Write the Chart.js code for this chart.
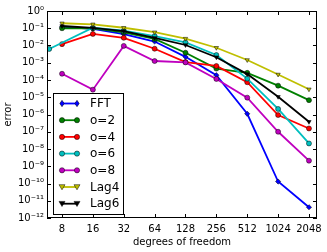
<!DOCTYPE html>
<html><head><meta charset="utf-8">
<script src="https://cdn.jsdelivr.net/npm/chart.js@4/dist/chart.umd.min.js"></script>
<style>html,body{margin:0;padding:0;background:#fff;overflow:hidden}</style>
</head>
<body><canvas id="c" width="327" height="252"></canvas>
<script>
const dof   = [8, 16, 32, 64, 128, 256, 512, 1024, 2048];
const dofO6 = [6, 16, 32, 64, 128, 256, 512, 1024, 2048];
const seriesNames = ['FFT', 'o=2', 'o=4', 'o=6', 'o=8', 'Lag4', 'Lag6'];
const fft  = [0.12, 0.093, 0.045, 0.017, 2.2e-3, 1.9e-4, 1.1e-6, 1.3e-10, 4.2e-12];
const o2   = [0.1, 0.1, 0.058, 0.024, 3.8e-3, 4.6e-4, 2.6e-4, 4.7e-5, 6.8e-6];
const o4   = [0.012, 0.047, 0.028, 6.5e-3, 1.1e-3, 6.5e-4, 7.4e-5, 9.3e-7, 1.55e-7];
const o6   = [6.3e-3, 0.107, 0.072, 0.035, 0.015, 2.8e-3, 1.2e-4, 2.1e-6, 2.1e-8];
const o8   = [2.3e-4, 2.75e-5, 9.5e-3, 1.26e-3, 1.05e-3, 1.15e-4, 9.5e-6, 1e-7, 2.1e-9];
const lag4 = [0.195, 0.17, 0.107, 0.059, 0.025, 7.4e-3, 1.45e-3, 2.1e-4, 2.9e-5];
const lag6 = [0.135, 0.105, 0.069, 0.0275, 0.0107, 2.1e-3, 2.2e-4, 1.07e-5, 3.8e-7];
const xTickValues = [8, 16, 32, 64, 128, 256, 512, 1024, 2048];
const yTickValues = [1, 1e-1, 1e-2, 1e-3, 1e-4, 1e-5, 1e-6, 1e-7, 1e-8, 1e-9, 1e-10, 1e-11, 1e-12];
const xTitle = 'degrees of freedom';
const yTitle = 'error';

const sup = {'0':'⁰','1':'¹','2':'²','3':'³','4':'⁴','5':'⁵','6':'⁶','7':'⁷','8':'⁸','9':'⁹','-':'⁻'};
function decadeLabel(v){
  const e = Math.round(Math.log10(v));
  return '10' + String(e).split('').map(c => sup[c]).join('');
}

const styles = [
  {color:'#0000ff', marker:'diamond'},
  {color:'#008000', marker:'circle'},
  {color:'#ff0000', marker:'circle'},
  {color:'#00bfbf', marker:'circle'},
  {color:'#bf00bf', marker:'circle'},
  {color:'#bfbf00', marker:'tri'},
  {color:'#000000', marker:'tri'}
];
const values = [fft, o2, o4, o6, o8, lag4, lag6];
const xs = [dof, dof, dof, dofO6, dof, dof, dof];

function toPts(x, y){ return x.map((v,i)=>({x:v, y:y[i]})); }
const cjsStyle = {diamond:'rectRot', circle:'circle', tri:'triangle'};

const datasets = values.map((v,i)=>({
  label: seriesNames[i],
  data: toPts(xs[i], v),
  borderColor: styles[i].color,
  backgroundColor: styles[i].color,
  borderWidth: 1.8,
  pointStyle: cjsStyle[styles[i].marker],
  pointRotation: styles[i].marker==='tri' ? 180 : 0,
  pointRadius: styles[i].marker==='diamond' ? 2.6 : 2.5,
  pointBorderColor: '#000',
  pointBorderWidth: 0.5,
  pointBackgroundColor: styles[i].color,
  order: 10 - i,
  tension: 0
}));

function drawMarker(ctx, kind, x, y, color){
  ctx.save();
  ctx.fillStyle = color; ctx.strokeStyle = '#000'; ctx.lineWidth = 0.5;
  ctx.beginPath();
  if (kind==='circle'){ ctx.arc(x,y,2.6,0,Math.PI*2); }
  else if (kind==='diamond'){ ctx.moveTo(x,y-3.2); ctx.lineTo(x+2.2,y); ctx.lineTo(x,y+3.2); ctx.lineTo(x-2.2,y); ctx.closePath(); }
  else { ctx.moveTo(x-3,y-2.3); ctx.lineTo(x+3,y-2.3); ctx.lineTo(x,y+2.8); ctx.closePath(); }
  ctx.fill(); ctx.stroke();
  ctx.restore();
}

const framePlugin = {
  id:'frame',
  afterDatasetsDraw(chart){
    const ctx = chart.ctx, a = chart.chartArea;
    const xs = chart.scales.x, ys = chart.scales.y;
    ctx.save();
    ctx.strokeStyle = '#000'; ctx.lineWidth = 1;
    ctx.strokeRect(Math.round(a.left)+0.5, Math.round(a.top)+0.5, Math.round(a.right-a.left)-1, Math.round(a.bottom-a.top)-1);
    ctx.beginPath();
    xTickValues.forEach(v=>{
      const px = Math.round(xs.getPixelForValue(v))+0.5;
      ctx.moveTo(px, a.bottom); ctx.lineTo(px, a.bottom-4);
      ctx.moveTo(px, a.top); ctx.lineTo(px, a.top+4);
    });
    yTickValues.forEach(v=>{
      const py = Math.round(ys.getPixelForValue(v))+0.5;
      ctx.moveTo(a.left, py); ctx.lineTo(a.left+4, py);
      ctx.moveTo(a.right, py); ctx.lineTo(a.right-4, py);
    });
    ctx.stroke();
    // legend
    const lx = 53, ly = 93, lw = 70, lh = 121;
    ctx.fillStyle = '#fff';
    ctx.fillRect(lx, ly, lw, lh);
    ctx.strokeRect(lx+0.5, ly+0.5, lw, lh);
    ctx.font = '12px "DejaVu Sans"';
    ctx.textBaseline = 'middle'; ctx.textAlign = 'left';
    seriesNames.forEach((n,i)=>{
      const y = 103.5 + i*16.7;
      ctx.strokeStyle = styles[i].color; ctx.lineWidth = 1.8;
      ctx.beginPath(); ctx.moveTo(62, y); ctx.lineTo(77, y); ctx.stroke();
      drawMarker(ctx, styles[i].marker, 62, y, styles[i].color);
      drawMarker(ctx, styles[i].marker, 77, y, styles[i].color);
      ctx.fillStyle = '#000';
      ctx.fillText(n, 90, y+0.5);
    });
    ctx.restore();
  }
};

Chart.defaults.font.family = '"DejaVu Sans"';
Chart.defaults.font.size = 10;
Chart.defaults.color = '#000';

new Chart(document.getElementById('c'), {
  type:'line',
  data:{datasets},
  options:{
    responsive:false,
    animation:false,
    layout:{padding:{top:11, right:10, left:0, bottom:0}},
    plugins:{legend:{display:false}, tooltip:{enabled:false}},
    scales:{
      x:{
        type:'logarithmic', min:5.71, max:2452,
        afterBuildTicks(s){ s.ticks = xTickValues.map(v=>({value:v})); },
        afterFit(s){ s.height = 34; },
        grid:{display:false, drawTicks:false},
        border:{display:false},
        ticks:{padding:5, maxRotation:0, autoSkip:false, callback:(v)=>String(v), font:{size:10}},
        title:{display:true, text:xTitle, padding:{top:0,bottom:4}, font:{size:10}}
      },
      y:{
        type:'logarithmic', min:1e-12, max:1,
        afterBuildTicks(s){ s.ticks = yTickValues.map(v=>({value:v})); },
        afterFit(s){ s.width = 47; },
        grid:{display:false, drawTicks:false},
        border:{display:false},
        ticks:{padding:3, autoSkip:false, callback:(v)=>decadeLabel(v), font:{size:10}},
        title:{display:true, text:yTitle, padding:{top:2,bottom:0}, font:{size:10}}
      }
    }
  },
  plugins:[framePlugin]
});
</script>
</body></html>
